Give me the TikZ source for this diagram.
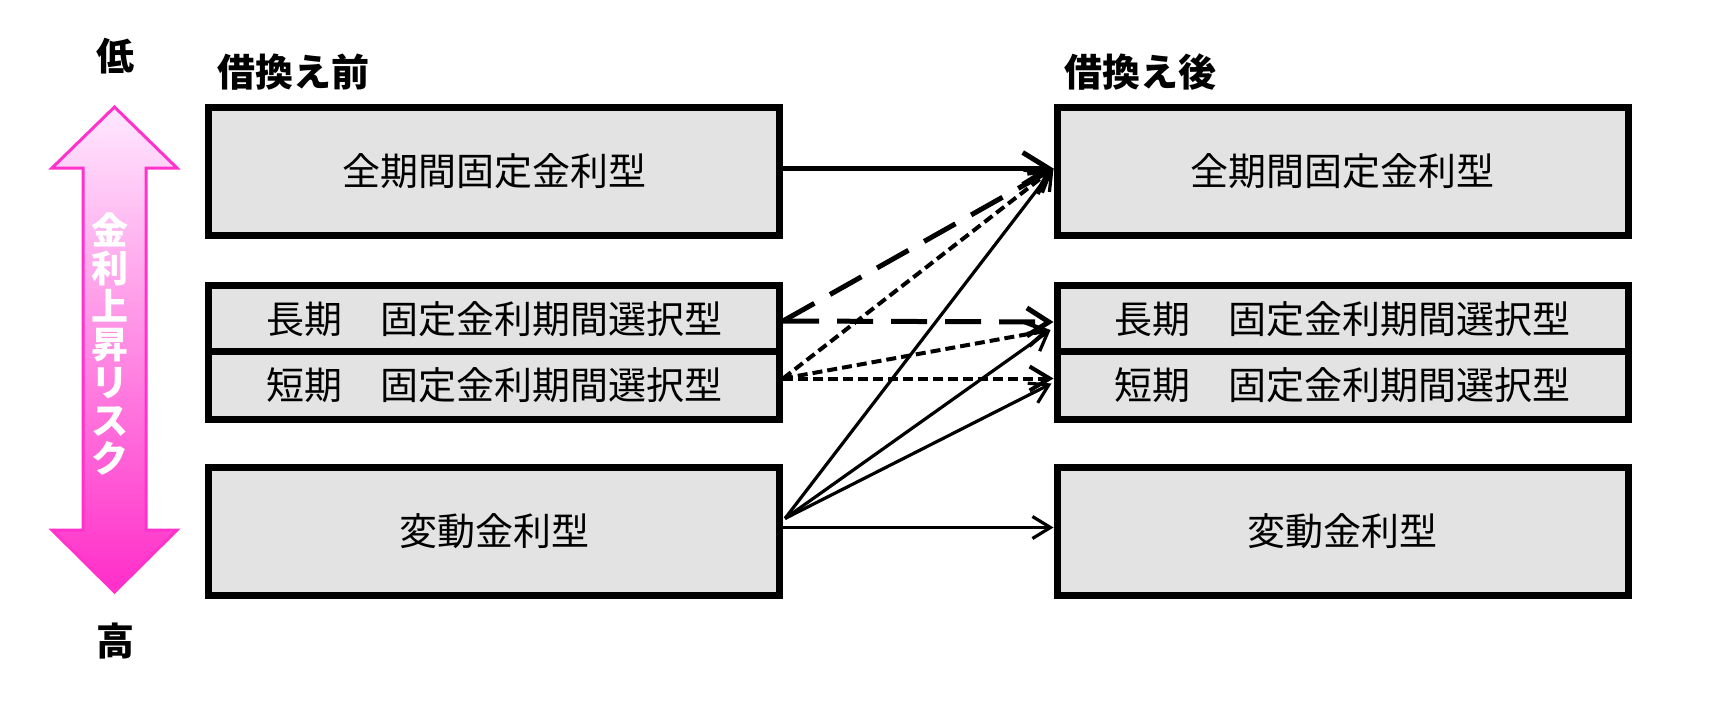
\documentclass[tikz,border=0pt]{standalone}
\usepackage{fontspec}
\setmainfont{Noto Sans CJK JP}
\usetikzlibrary{arrows.meta,calc}
\definecolor{boxgray}{RGB}{227,227,227}
\definecolor{pinkline}{RGB}{255,51,204}
\definecolor{pinktop}{RGB}{255,232,255}
\definecolor{pinkbot}{RGB}{255,45,200}
\begin{document}
\begin{tikzpicture}[x=1pt,y=-1pt,
  box/.style={draw=black, line width=7pt, fill=boxgray, minimum width=571pt,
    inner sep=0pt, font=\fontsize{38}{40}\selectfont},
  bigbox/.style={box, minimum height=128pt},
  smallbox/.style={box, minimum height=67.5pt},
  hdr/.style={inner sep=0pt, font=\fontsize{38}{40}\selectfont\bfseries},
  thickarr/.style={line width=5pt, -{Straight Barb[length=26pt,width=32pt]}},
  longdash/.style={line width=5pt, dash pattern=on 36pt off 18pt,
    -{Straight Barb[length=22pt,width=28pt]}},
  shortdash/.style={line width=4pt, dash pattern=on 10pt off 5pt,
    -{Straight Barb[length=20pt,width=24pt]}},
  thinarr/.style={line width=3.2pt, -{Straight Barb[length=18pt,width=22pt]}},
  riskarrow/.style={top color=pinktop, bottom color=pinkbot, draw=pinkline,
    line width=3pt, line join=miter}
]
\fill[white] (0,0) rectangle (1711,709);

% risk arrow
\path[riskarrow] (114.5,107) -- (177,168) -- (146,168) -- (146,530) -- (177,530)
  -- (114.5,592) -- (52,530) -- (83,530) -- (83,168) -- (52,168) -- cycle;
\node[white, inner sep=0pt, align=center, font=\fontsize{37}{38}\selectfont\bfseries]
  (risk) at (110,344) {金\\利\\上\\昇\\リ\\ス\\ク};
\node[hdr] (low) at (115,56) {低};
\node[hdr] (high) at (115,641) {高};

% headers
\node[hdr] (before) at (293,72) {借換え前};
\node[hdr] (after) at (1140,72) {借換え後};

% left boxes
\node[bigbox] (L1) at (494,171.5) {全期間固定金利型};
\node[smallbox] (L2) at (494,319) {長期　固定金利期間選択型};
\node[smallbox] (L3) at (494,385.5) {短期　固定金利期間選択型};
\node[bigbox] (L4) at (494,531.5) {変動金利型};

% right boxes
\node[bigbox] (R1) at (1342.5,171.5) {全期間固定金利型};
\node[smallbox] (R2) at (1342.5,319) {長期　固定金利期間選択型};
\node[smallbox] (R3) at (1342.5,385.5) {短期　固定金利期間選択型};
\node[bigbox] (R4) at (1342.5,531.5) {変動金利型};

% connection points
\coordinate (L1o) at ($(L1.east)+(0,-3)$);
\coordinate (L2o) at ($(L2.east)+(0,2)$);
\coordinate (L3o) at ($(L3.east)+(0,-7)$);
\coordinate (L4a) at ($(L4.east)+(2,-13)$);
\coordinate (L4o) at ($(L4.east)+(0,-4)$);
\coordinate (R1i) at ($(R1.west)+(0,-3)$);
\coordinate (R2h) at ($(R2.west)+(0,3)$);
\coordinate (R2i) at ($(R2.west)+(-3,11)$);
\coordinate (R3h) at ($(R3.west)+(0,-7)$);
\coordinate (R3i) at ($(R3.west)+(-2,-2)$);
\coordinate (R4i) at ($(R4.west)+(0,-4)$);

% connectors
\draw[thickarr] (L1o) -- (R1i);
\draw[longdash] (L2o) -- (R1i);
\draw[longdash] (L2o) -- (R2h);
\draw[shortdash] (L3o) -- (R1i);
\draw[shortdash] (L3o) -- (R2i);
\draw[shortdash] (L3o) -- (R3h);
\draw[thinarr] (L4a) -- (R1i);
\draw[thinarr] (L4a) -- (R2i);
\draw[thinarr] (L4a) -- (R3i);
\draw[thinarr] (L4o) -- (R4i);
\end{tikzpicture}
\end{document}
